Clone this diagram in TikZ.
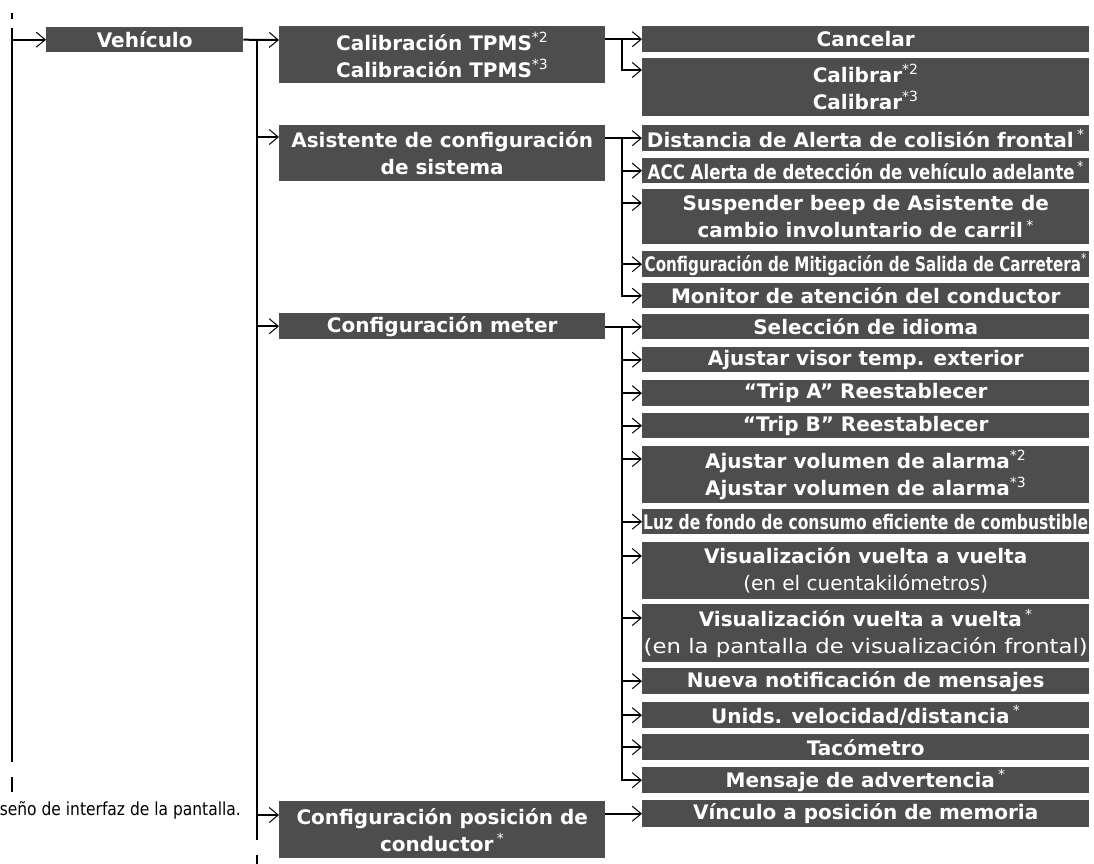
\documentclass[tikz,border=0pt]{standalone}
\usepackage{fontspec}
\setmainfont{DejaVu Sans}
\usetikzlibrary{arrows.meta}
\definecolor{boxgray}{HTML}{4D4D4D}
\newcommand{\sn}[1]{{\mdseries\textsuperscript{#1}}}
\newcommand{\fitw}[2]{\resizebox{#1}{\height}{#2}}
\begin{document}
\begin{tikzpicture}[x=1pt,y=-1pt,
  mbox/.style={fill=boxgray, text=white, inner sep=0pt, align=center, anchor=north west,
    font=\fontsize{20}{27}\selectfont\bfseries},
  ltwo/.style={mbox, minimum width=326pt},
  lthree/.style={mbox, minimum width=447pt},
  conn/.style={line width=2pt},
  arr/.style={conn, -{Straight Barb[length=9pt,width=15pt,line width=1pt]}},
  note/.style={inner sep=0pt, font=\fontsize{18}{20}\selectfont\mdseries}]
\fill[white] (0,0) rectangle (1094,863);
\useasboundingbox (0,0) rectangle (1094,863);

% level 1
\node[mbox, minimum width=197pt, minimum height=25pt] (veh) at (46,27) {Vehículo};

% level 2
\node[ltwo, minimum height=57pt] (tpms) at (279,26) {Calibración TPMS\sn{*2}\\Calibración TPMS\sn{*3}};
\node[ltwo, minimum height=56pt] (asis) at (279,125) {Asistente de configuración\\de sistema};
\node[ltwo, minimum height=26pt] (meter) at (279,313) {Configuración meter};
\node[ltwo, minimum height=57pt] (pos) at (279,801) {Configuración posición de\\conductor\,\sn{*}};

% level 3
\node[lthree, minimum height=26pt] (cancel) at (642,26) {Cancelar};
\node[lthree, minimum height=58pt] (calib) at (642,58) {Calibrar\sn{*2}\\Calibrar\sn{*3}};
\node[lthree, minimum height=26pt] (dist) at (642,125) {Distancia de Alerta de colisión frontal\,\sn{*}};
\node[lthree, minimum height=25pt] (acc) at (642,158) {\fitw{436pt}{ACC Alerta de detección de vehículo adelante\,\sn{*}}};
\node[lthree, minimum height=55pt] (susp) at (642,189) {Suspender beep de Asistente de\\cambio involuntario de carril\,\sn{*}};
\node[lthree, minimum height=26pt] (mitig) at (642,251) {\fitw{442pt}{Configuración de Mitigación de Salida de Carretera\sn{*}}};
\node[lthree, minimum height=25pt] (monit) at (642,283) {Monitor de atención del conductor};
\node[lthree, minimum height=25pt] (selec) at (642,314) {Selección de idioma};
\node[lthree, minimum height=25pt] (visor) at (642,347) {Ajustar visor temp. exterior};
\node[lthree, minimum height=26pt] (tripa) at (642,380) {“Trip A” Reestablecer};
\node[lthree, minimum height=25pt] (tripb) at (642,413) {“Trip B” Reestablecer};
\node[lthree, minimum height=57pt] (vol) at (642,446) {Ajustar volumen de alarma\sn{*2}\\Ajustar volumen de alarma\sn{*3}};
\node[lthree, minimum height=25pt] (luz) at (642,509) {\fitw{445pt}{Luz de fondo de consumo eficiente de combustible}};
\node[lthree, minimum height=57pt] (vueltaa) at (642,542) {Visualización vuelta a vuelta\\{\mdseries (en el cuentakilómetros)}};
\node[lthree, minimum height=58pt] (vueltab) at (642,604) {Visualización vuelta a vuelta\,\sn{*}\\{\mdseries\fitw{444pt}{(en la pantalla de visualización frontal)}}};
\node[lthree, minimum height=26pt] (nueva) at (642,668) {Nueva notificación de mensajes};
\node[lthree, minimum height=26pt] (unids) at (642,702) {Unids. velocidad/distancia\,\sn{*}};
\node[lthree, minimum height=26pt] (taco) at (642,734) {Tacómetro};
\node[lthree, minimum height=26pt] (mens) at (642,767) {Mensaje de advertencia\,\sn{*}};
\node[lthree, minimum height=27pt] (vinc) at (642,800) {Vínculo a posición de memoria};

\node[note, anchor=east] (nt) at (241,810) {\fitw{241pt}{seño de interfaz de la pantalla.}};

% first-line anchor points of two-line boxes
\coordinate (tpmsA) at ([yshift=-14pt]tpms.north west);
\coordinate (asisA) at ([yshift=-12pt]asis.north west);
\coordinate (posA) at ([yshift=-14pt]pos.north west);
\coordinate (calibA) at ([yshift=-12pt]calib.north west);
\coordinate (suspA) at ([yshift=-14pt]susp.north west);
\coordinate (volA) at ([yshift=-13pt]vol.north west);
\coordinate (vaA) at ([yshift=-14pt]vueltaa.north west);
\coordinate (vbA) at ([yshift=-14pt]vueltab.north west);

% trunk lines
\coordinate (t0s) at (12,28);
\coordinate (t0e) at (12,762);
\coordinate (t1e) at (257,840);
\coordinate (bx) at (622,0);

% level 1 trunk
\draw[conn] (12,13) -- (12,19);
\draw[conn] (t0s) -- (t0e);
\draw[conn] (12,777) -- (12,792);
\draw[arr] (veh.west -| t0s) -- (veh.west);

% level 2 trunk
\draw[arr] (veh.east) -- (tpmsA);
\draw[conn] (veh.east -| t1e) -- (t1e);
\draw[conn] (257,855) -- (257,866);
\draw[arr] (asisA -| t1e) -- (asisA);
\draw[arr] (meter.west -| t1e) -- (meter.west);
\draw[arr] (posA -| t1e) -- (posA);

% TPMS group
\draw[arr] (cancel.west -| tpms.east) -- (cancel.west);
\draw[arr] (cancel.west -| bx) |- (calibA);

% Asistente group
\draw[arr] (dist.west -| asis.east) -- (dist.west);
\draw[arr] (dist.west -| bx) |- (monit.west);
\draw[arr] (acc.west -| bx) -- (acc.west);
\draw[arr] (suspA -| bx) -- (suspA);
\draw[arr] (mitig.west -| bx) -- (mitig.west);

% meter group
\draw[arr] (selec.west -| meter.east) -- (selec.west);
\draw[arr] (selec.west -| bx) |- (mens.west);
\foreach \n in {visor,tripa,tripb,luz,nueva,unids,taco}
  \draw[arr] (\n.west -| bx) -- (\n.west);
\foreach \n in {volA,vaA,vbA}
  \draw[arr] (\n -| bx) -- (\n);

% posicion
\draw[arr] (vinc.west -| pos.east) -- (vinc.west);
\end{tikzpicture}
\end{document}
